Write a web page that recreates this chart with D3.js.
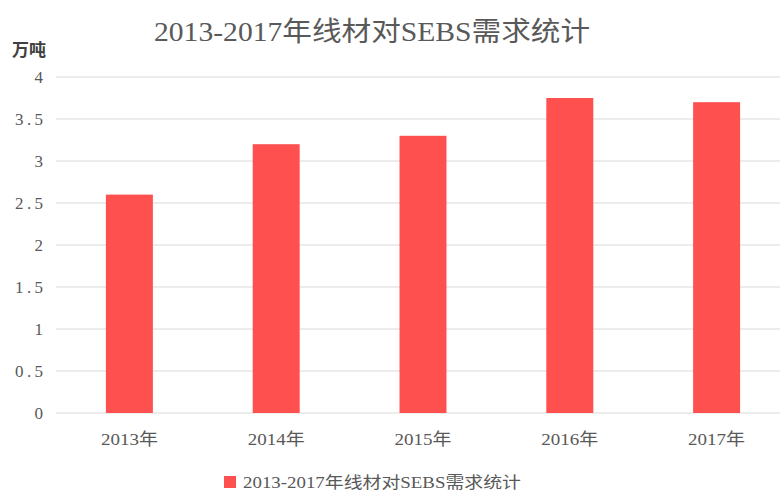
<!DOCTYPE html>
<html><head><meta charset="utf-8">
<script src="https://cdn.jsdelivr.net/npm/d3@7"></script>
<style>body{margin:0;background:#fff;}svg{display:block;}</style>
</head><body>
<svg id="c" width="780" height="490"></svg>
<script>
const categories = ["2013年","2014年","2015年","2016年","2017年"];
const values = [2.6, 3.2, 3.3, 3.75, 3.7];
const yTicks = [0, 0.5, 1, 1.5, 2, 2.5, 3, 3.5, 4];
const yTickLabels = ["0","0.5","1","1.5","2","2.5","3","3.5","4"];
const titleText = "2013-2017年线材对SEBS需求统计";
const seriesName = "2013-2017年线材对SEBS需求统计";
const unitText = "万吨";

const font = "'Liberation Serif','DejaVu Serif','Noto Sans CJK SC',serif";
const svg = d3.select("#c");
const x = d3.scaleBand().domain(categories).range([56, 790]).paddingInner(0.68).paddingOuter(0.34);
const y = d3.scaleLinear().domain([0, 4]).range([413, 77]);

svg.append("g").selectAll("line").data(yTicks).join("line")
  .attr("x1", 56).attr("x2", 780)
  .attr("y1", d => y(d)).attr("y2", d => y(d))
  .attr("stroke", "#d9d9d9").attr("stroke-width", 1.2);

svg.append("g").selectAll("rect").data(values).join("rect")
  .attr("x", (d, i) => x(categories[i]))
  .attr("width", x.bandwidth())
  .attr("y", d => y(d))
  .attr("height", d => y(0) - y(d))
  .attr("fill", "#FF5050");

svg.append("g").selectAll("text").data(yTicks).join("text")
  .attr("x", 43).attr("y", d => y(d) + 6)
  .attr("text-anchor", "end")
  .attr("font-family", font).attr("font-size", 17).attr("fill", "#595959")
  .each(function(d, i) {
    const t = d3.select(this).text(yTickLabels[i]);
    if (yTickLabels[i].length > 1) t.attr("textLength", 28).attr("lengthAdjust", "spacing");
  });

svg.append("g").selectAll("text").data(categories).join("text")
  .attr("x", d => x(d) + x.bandwidth() / 2).attr("y", 445)
  .attr("text-anchor", "middle")
  .attr("font-family", font).attr("font-size", 17).attr("fill", "#595959")
  .attr("textLength", 57).attr("lengthAdjust", "spacingAndGlyphs")
  .text(d => d);

svg.append("text").attr("x", 372).attr("y", 41)
  .attr("text-anchor", "middle")
  .attr("font-family", font).attr("font-size", 27).attr("fill", "#595959")
  .attr("textLength", 436).attr("lengthAdjust", "spacingAndGlyphs")
  .text(titleText);

svg.append("text").attr("x", 12).attr("y", 56)
  .attr("font-family", "'Noto Sans CJK SC',sans-serif").attr("font-size", 17)
  .attr("font-weight", "bold").attr("fill", "#404040")
  .text(unitText);

svg.append("rect").attr("x", 224).attr("y", 476).attr("width", 12).attr("height", 12).attr("fill", "#FF5050");
svg.append("text").attr("x", 243).attr("y", 488)
  .attr("font-family", font).attr("font-size", 16).attr("fill", "#595959")
  .attr("textLength", 278).attr("lengthAdjust", "spacingAndGlyphs")
  .text(seriesName);
</script>
</body></html>
